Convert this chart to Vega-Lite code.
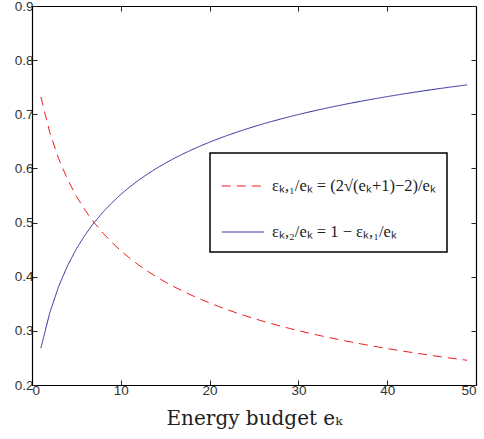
{
  "$schema": "https://vega.github.io/schema/vega-lite/v6.json",
  "width": 444,
  "height": 379,
  "autosize": {"type": "none"},
  "padding": {"left": 32, "top": 6, "right": 8, "bottom": 54},
  "background": "white",
  "config": {
    "view": {"stroke": null},
    "axis": {
      "grid": false,
      "domainColor": "#000000",
      "domainWidth": 1.2,
      "tickColor": "#222222",
      "tickSize": -5,
      "tickWidth": 1,
      "labelFont": "Liberation Sans",
      "labelFontSize": 13.5,
      "labelColor": "#333333",
      "titleFont": "DejaVu Serif",
      "titleFontWeight": "normal",
      "titleColor": "#222222"
    }
  },
  "data": {
    "values": [
      {"x": 1, "s1": 0.73205, "s2": 0.26795},
      {"x": 2, "s1": 0.66667, "s2": 0.33333},
      {"x": 3, "s1": 0.61803, "s2": 0.38197},
      {"x": 4, "s1": 0.57980, "s2": 0.42020},
      {"x": 5, "s1": 0.54858, "s2": 0.45142},
      {"x": 6, "s1": 0.52241, "s2": 0.47759},
      {"x": 7, "s1": 0.50000, "s2": 0.50000},
      {"x": 8, "s1": 0.48051, "s2": 0.51949},
      {"x": 9, "s1": 0.46332, "s2": 0.53668},
      {"x": 10, "s1": 0.44802, "s2": 0.55198},
      {"x": 11, "s1": 0.43426, "s2": 0.56574},
      {"x": 12, "s1": 0.42179, "s2": 0.57821},
      {"x": 13, "s1": 0.41043, "s2": 0.58957},
      {"x": 14, "s1": 0.40000, "s2": 0.60000},
      {"x": 15, "s1": 0.39039, "s2": 0.60961},
      {"x": 16, "s1": 0.38149, "s2": 0.61851},
      {"x": 17, "s1": 0.37321, "s2": 0.62679},
      {"x": 18, "s1": 0.36549, "s2": 0.63451},
      {"x": 19, "s1": 0.35826, "s2": 0.64174},
      {"x": 20, "s1": 0.35147, "s2": 0.64853},
      {"x": 21, "s1": 0.34508, "s2": 0.65492},
      {"x": 22, "s1": 0.33904, "s2": 0.66096},
      {"x": 23, "s1": 0.33333, "s2": 0.66667},
      {"x": 24, "s1": 0.32792, "s2": 0.67208},
      {"x": 25, "s1": 0.32278, "s2": 0.67722},
      {"x": 26, "s1": 0.31789, "s2": 0.68211},
      {"x": 27, "s1": 0.31323, "s2": 0.68677},
      {"x": 28, "s1": 0.30877, "s2": 0.69123},
      {"x": 29, "s1": 0.30452, "s2": 0.69548},
      {"x": 30, "s1": 0.30044, "s2": 0.69956},
      {"x": 31, "s1": 0.29654, "s2": 0.70346},
      {"x": 32, "s1": 0.29279, "s2": 0.70721},
      {"x": 33, "s1": 0.28918, "s2": 0.71082},
      {"x": 34, "s1": 0.28571, "s2": 0.71429},
      {"x": 35, "s1": 0.28238, "s2": 0.71762},
      {"x": 36, "s1": 0.27916, "s2": 0.72084},
      {"x": 37, "s1": 0.27605, "s2": 0.72395},
      {"x": 38, "s1": 0.27305, "s2": 0.72695},
      {"x": 39, "s1": 0.27016, "s2": 0.72984},
      {"x": 40, "s1": 0.26735, "s2": 0.73265},
      {"x": 41, "s1": 0.26464, "s2": 0.73536},
      {"x": 42, "s1": 0.26201, "s2": 0.73799},
      {"x": 43, "s1": 0.25946, "s2": 0.74054},
      {"x": 44, "s1": 0.25699, "s2": 0.74301},
      {"x": 45, "s1": 0.25459, "s2": 0.74541},
      {"x": 46, "s1": 0.25226, "s2": 0.74774},
      {"x": 47, "s1": 0.25000, "s2": 0.75000},
      {"x": 48, "s1": 0.24780, "s2": 0.75220},
      {"x": 49, "s1": 0.24566, "s2": 0.75434}
    ]
  },
  "transform": [{"fold": ["s1", "s2"], "as": ["series", "value"]}],
  "layer": [
    {
      "mark": {"type": "line", "strokeWidth": 1, "clip": true},
      "encoding": {
        "x": {
          "field": "x", "type": "quantitative",
          "scale": {"domain": [0, 50], "nice": false},
          "axis": {"values": [0, 10, 20, 30, 40, 50], "title": "Energy budget eₖ", "titleFontSize": 20, "labelPadding": 3, "titlePadding": 12}
        },
        "y": {
          "field": "value", "type": "quantitative",
          "scale": {"domain": [0.2, 0.9], "nice": false, "zero": false},
          "axis": {"values": [0.2, 0.3, 0.4, 0.5, 0.6, 0.7, 0.8, 0.9], "format": ".1f", "title": null, "labelPadding": 4}
        },
        "color": {
          "field": "series", "type": "nominal",
          "scale": {"domain": ["s1", "s2"], "range": ["#ee1c1c", "#2a2a9c"]},
          "legend": {
            "title": null,
            "orient": "none",
            "legendX": 178,
            "legendY": 147,
            "symbolType": "stroke",
            "symbolSize": 1800,
            "symbolStrokeWidth": 1,
            "labelExpr": "datum.value == 's1' ? 'εₖ,₁/eₖ = (2√(eₖ+1)−2)/eₖ' : 'εₖ,₂/eₖ = 1 − εₖ,₁/eₖ'",
            "labelFont": "Liberation Serif",
            "labelFontSize": 16.5,
            "labelColor": "#222222",
            "labelLimit": 400,
            "labelOffset": 7,
            "rowPadding": 15,
            "padding": 11,
            "strokeColor": "#000000",
            "fillColor": "#ffffff",
            "encode": {"legend": {"update": {"strokeWidth": {"value": 1.5}}}}
          }
        },
        "strokeDash": {
          "field": "series", "type": "nominal",
          "scale": {"domain": ["s1", "s2"], "range": [[9, 6], [1, 0]]},
          "legend": null
        }
      }
    },
    {
      "mark": {"type": "line", "opacity": 0},
      "encoding": {
        "x": {
          "field": "x", "type": "quantitative",
          "scale": {"domain": [0, 50], "nice": false},
          "axis": {"orient": "top", "values": [0, 10, 20, 30, 40, 50], "labels": false, "title": null}
        },
        "y": {
          "field": "value", "type": "quantitative",
          "scale": {"domain": [0.2, 0.9], "nice": false, "zero": false},
          "axis": {"orient": "right", "values": [0.2, 0.3, 0.4, 0.5, 0.6, 0.7, 0.8, 0.9], "labels": false, "title": null}
        },
        "detail": {"field": "series", "type": "nominal"}
      }
    }
  ],
  "resolve": {"axis": {"x": "independent", "y": "independent"}}
}
